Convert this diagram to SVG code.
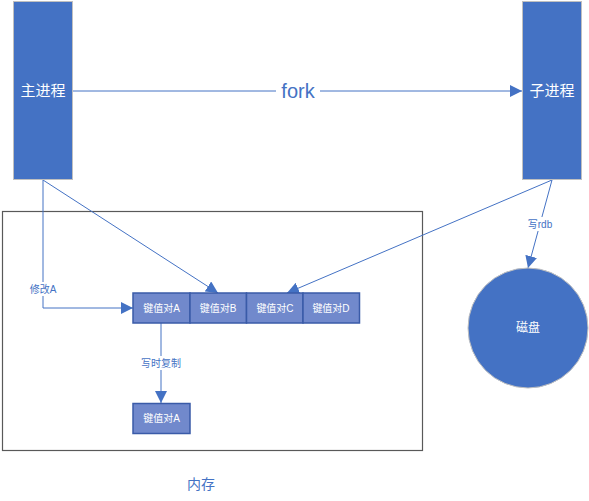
<svg xmlns="http://www.w3.org/2000/svg" width="589" height="501" viewBox="0 0 589 501">
<defs>
<marker id="ah" viewBox="0 0 10 10" refX="10" refY="5" markerWidth="8" markerHeight="8" markerUnits="userSpaceOnUse" orient="auto">
<path d="M0,0 L10,5 L0,10 Z" fill="#4472C4"/>
</marker>
<marker id="ahb" viewBox="0 0 10 10" refX="10" refY="5" markerWidth="12" markerHeight="12" markerUnits="userSpaceOnUse" orient="auto">
<path d="M0,0 L10,5 L0,10 Z" fill="#4472C4"/>
</marker>
<style>
text{font-family:"Liberation Sans","Noto Sans CJK SC",sans-serif;}
.proc{fill:#4472C4;stroke:#C0C0C0;stroke-width:1;}
.kv{fill:#7189CC;stroke:#3A5BA8;stroke-width:1.5;}
.kvt{fill:#FFFFFF;font-size:10px;text-anchor:middle;dominant-baseline:central;}
.wt{fill:#FFFFFF;font-size:15px;text-anchor:middle;dominant-baseline:central;}
.ln{fill:none;stroke:#4472C4;stroke-width:1;marker-end:url(#ah);}
.lbl{fill:#4472C4;font-size:10px;text-anchor:middle;dominant-baseline:central;}
</style>
</defs>
<rect x="0" y="0" width="589" height="501" fill="#FFFFFF"/>
<g id="memory">
<rect x="2.5" y="211.5" width="420" height="239" fill="none" stroke="#595959" stroke-width="1.2"/>
<text x="201" y="484" fill="#4472C4" font-size="14" text-anchor="middle" dominant-baseline="central">内存</text>
</g>
<g id="connectors">
<line x1="73" y1="91" x2="522" y2="91" stroke="#4472C4" stroke-width="1" marker-end="url(#ahb)"/>
<rect x="276" y="80" width="44" height="22" fill="#FFFFFF"/>
<text x="298" y="91" fill="#4472C4" font-size="20" text-anchor="middle" dominant-baseline="central">fork</text>
<polyline class="ln" points="43,180 43,308 133,308" style="marker-end:url(#ahb)"/>
<rect x="27" y="282" width="32" height="14" fill="#FFFFFF"/>
<text class="lbl" x="43" y="289">修改A</text>
<line class="ln" x1="43" y1="180" x2="218" y2="293" style="marker-end:url(#ahb)"/>
<line class="ln" x1="552" y1="180" x2="287" y2="293" style="marker-end:url(#ahb)"/>
<line class="ln" x1="552" y1="180" x2="528" y2="268" style="marker-end:url(#ahb)"/>
<rect x="525" y="217" width="30" height="14" fill="#FFFFFF"/>
<text class="lbl" x="540" y="224">写rdb</text>
<line class="ln" x1="161" y1="323" x2="161" y2="403" style="marker-end:url(#ahb)"/>
<rect x="139" y="356" width="44" height="14" fill="#FFFFFF"/>
<text class="lbl" x="161" y="363">写时复制</text>
</g>
<g id="main">
<rect class="proc" x="13.5" y="1.5" width="59" height="178"/>
<text class="wt" x="43" y="90">主进程</text>
</g>
<g id="child">
<rect class="proc" x="522.5" y="1.5" width="59" height="178"/>
<text class="wt" x="552" y="90">子进程</text>
</g>
<g id="disk">
<circle cx="528" cy="328" r="60" fill="#4472C4" stroke="#C0C0C0" stroke-width="1"/>
<text x="528" y="328" fill="#FFFFFF" font-size="12" text-anchor="middle" dominant-baseline="central">磁盘</text>
</g>
<g id="kvA">
<rect class="kv" x="133" y="293" width="57" height="30"/>
<text class="kvt" x="161.5" y="308">键值对A</text>
</g>
<g id="kvB">
<rect class="kv" x="190" y="293" width="56.5" height="30"/>
<text class="kvt" x="218" y="308">键值对B</text>
</g>
<g id="kvC">
<rect class="kv" x="246.5" y="293" width="56.5" height="30"/>
<text class="kvt" x="275" y="308">键值对C</text>
</g>
<g id="kvD">
<rect class="kv" x="303" y="293" width="56.5" height="30"/>
<text class="kvt" x="331" y="308">键值对D</text>
</g>
<g id="kvA2">
<rect class="kv" x="133" y="403.5" width="57" height="30"/>
<text class="kvt" x="161.5" y="418.5">键值对A</text>
</g>
</svg>
